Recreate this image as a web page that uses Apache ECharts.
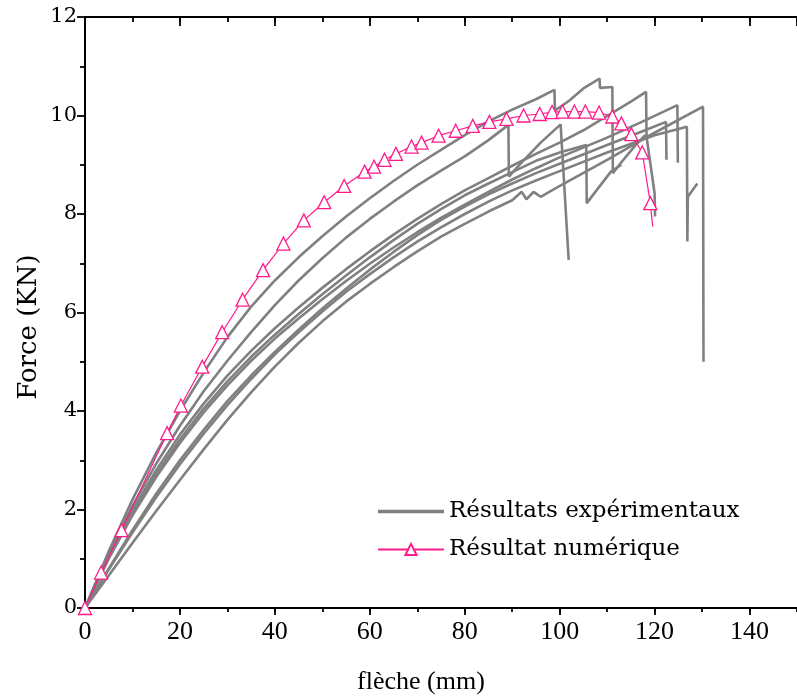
<!DOCTYPE html>
<html>
<head>
<meta charset="utf-8">
<script src="https://cdn.jsdelivr.net/npm/echarts@6/dist/echarts.min.js"></script>
<style>html,body{margin:0;padding:0;background:#fff}#c{width:797px;height:697px}</style>
</head>
<body>
<div id="c"></div>
<script>
// ---- tick labels ----
const xTicks = [0, 20, 40, 60, 80, 100, 120, 140];
const yTicks = [0, 2, 4, 6, 8, 10, 12];

// ---- experimental curves [flèche mm, force kN] ----
const essaiA = [[0,0],[5,1.1],[10,2.07],[15,2.93],[20,3.7],[25,4.4],[30,5.02],[35,5.6],[40,6.15],[45,6.65],[50,7.1],[55,7.52],[60,7.9],[65,8.25],[70,8.58],[75,8.88],[80,9.17],[85,9.5],[89.2,9.81],[89.3,8.76],[92,9.05],[96,9.45],[100.2,9.82],[101.9,7.07]];
const essaiB = [[0,0],[5,1.15],[10,2.2],[15,3.15],[20,4.0],[25,4.78],[30,5.5],[35,6.12],[40,6.65],[45,7.12],[50,7.55],[55,7.95],[60,8.32],[65,8.67],[70,9.0],[75,9.3],[80,9.6],[85,9.88],[90,10.12],[95,10.33],[98.9,10.52],[99,10.1],[102,10.3],[105,10.55],[108.4,10.75],[108.5,10.56],[111.1,10.58],[111.2,8.83],[113,9.05],[116,9.4],[118,9.6]];
const essaiC = [[0,0],[5,1.05],[10,1.98],[15,2.8],[20,3.52],[25,4.15],[30,4.72],[35,5.22],[40,5.68],[45,6.1],[50,6.5],[55,6.88],[60,7.24],[65,7.58],[70,7.9],[75,8.2],[80,8.48],[85,8.73],[90,8.98],[95,9.22],[100,9.45],[105,9.7],[111,10.05],[115,10.28],[118.2,10.48],[118.3,9.57],[120,8.42],[120.1,7.95]];
const essaiD = [[0,0],[5,1.02],[10,1.92],[15,2.72],[20,3.42],[25,4.05],[30,4.6],[35,5.1],[40,5.55],[45,5.97],[50,6.37],[55,6.75],[60,7.12],[65,7.47],[70,7.8],[75,8.1],[80,8.38],[85,8.62],[90,8.85],[95,9.08],[100,9.25],[105.6,9.4],[105.7,8.22],[110.8,8.86],[113,9.0]];
const essaiE = [[0,0],[5,1.0],[10,1.88],[15,2.66],[20,3.35],[25,3.97],[30,4.52],[35,5.02],[40,5.47],[45,5.88],[50,6.27],[55,6.64],[60,6.99],[65,7.32],[70,7.63],[75,7.92],[80,8.19],[85,8.45],[90,8.7],[95,8.93],[100,9.15],[110,9.55],[118,9.9],[124.8,10.21],[124.9,9.04]];
const essaiF = [[0,0],[5,0.8],[10,1.58],[15,2.32],[20,3.0],[25,3.62],[30,4.2],[35,4.72],[40,5.2],[45,5.65],[50,6.08],[55,6.48],[60,6.87],[65,7.23],[70,7.57],[75,7.88],[80,8.15],[85,8.4],[90,8.62],[95,8.83],[100,9.02],[110,9.4],[118,9.7],[122.4,9.87],[122.5,9.1]];
const essaiG = [[0,0],[5,0.78],[10,1.53],[15,2.25],[20,2.92],[25,3.54],[30,4.12],[35,4.65],[40,5.15],[45,5.6],[50,6.02],[55,6.42],[60,6.78],[65,7.12],[70,7.44],[75,7.73],[80,8.0],[85,8.25],[90,8.48],[95,8.68],[100,8.87],[110,9.25],[120,9.6],[126.8,9.77],[126.9,7.44],[127,8.35],[129,8.62]];
const essaiH = [[0,0],[5,0.66],[10,1.32],[15,1.97],[20,2.6],[25,3.22],[30,3.82],[35,4.38],[40,4.9],[45,5.38],[50,5.82],[55,6.22],[60,6.58],[65,6.92],[70,7.24],[75,7.54],[80,7.8],[85,8.05],[90,8.28],[92,8.45],[93,8.3],[94.5,8.45],[96,8.35],[99.1,8.52],[110,9.1],[120,9.65],[130.2,10.18],[130.3,5.0]];
const essais = [essaiA, essaiB, essaiC, essaiD, essaiE, essaiF, essaiG, essaiH];

// ---- numerical result ----
const numX = [0,3.4,7.7,17.3,20.2,24.7,28.9,33.2,37.5,41.8,46.1,50.4,54.6,58.9,60.9,63.1,65.5,68.8,70.9,74.5,78.1,81.7,85.2,88.8,92.4,95.8,98.4,100.6,103.1,105.4,108.3,111.1,113.0,115.1,117.4,119.1,119.6];
const numY = [0,0.72,1.58,3.55,4.11,4.90,5.60,6.26,6.86,7.40,7.87,8.24,8.57,8.86,8.96,9.10,9.22,9.37,9.45,9.59,9.69,9.79,9.87,9.93,10.0,10.03,10.07,10.08,10.08,10.08,10.06,9.98,9.84,9.62,9.25,8.22,7.74];

const expName = 'Résultats expérimentaux';
const numName = 'Résultat numérique';
const grey = '#808080';
const pink = '#ff1a8c';

const chart = echarts.init(document.getElementById('c'), null, {renderer: 'canvas'});

const series = essais.map(d => ({
  name: expName, type: 'line', xAxisIndex: 0, yAxisIndex: 0,
  data: d, showSymbol: false, symbol: 'none',
  lineStyle: {color: grey, width: 2.6}, itemStyle: {color: grey},
  z: 2, animation: false
}));
series.push({
  name: numName, type: 'line', xAxisIndex: 0, yAxisIndex: 0,
  data: numX.map((x, i) => i === numX.length - 1 ? {value: [x, numY[i]], symbol: 'none'} : [x, numY[i]]),
  symbol: 'triangle', symbolSize: 13, showAllSymbol: true,
  lineStyle: {color: pink, width: 1.2},
  itemStyle: {color: '#fff', borderColor: pink, borderWidth: 1.3},
  z: 5, animation: false
});

const xStep = xTicks[1] - xTicks[0];
const yStep = yTicks[1] - yTicks[0];
const axisLineStyle = {color: '#000', width: 2};

function xAx(pos, interval, len, inside, showLine, showLabel) {
  return {
    type: 'value', position: pos, min: xTicks[0], max: 150, interval: interval,
    axisLine: {show: showLine, onZero: false, lineStyle: axisLineStyle},
    axisTick: {show: true, inside: inside, length: len, lineStyle: {color: '#000', width: 1.8}},
    axisLabel: {show: showLabel, showMaxLabel: false, margin: 11, color: '#000',
      fontFamily: 'Liberation Serif', fontSize: 26},
    splitLine: {show: false}
  };
}

chart.setOption({
  animation: false,
  backgroundColor: '#fff',
  grid: {left: 85, top: 17, right: -6, bottom: 89, containLabel: false},
  xAxis: [
    xAx('bottom', xStep, 7, false, true, true),
    xAx('bottom', xStep / 2, 4, false, false, false),
    xAx('top', xStep, 9, true, true, false),
    xAx('top', xStep / 2, 5, true, false, false)
  ],
  yAxis: [{
    type: 'value', position: 'left', min: yTicks[0], max: yTicks[yTicks.length - 1], interval: yStep,
    axisLine: {show: true, onZero: false, lineStyle: axisLineStyle},
    axisTick: {show: true, inside: false, length: 8, lineStyle: {color: '#000', width: 1.8}},
    minorTick: {show: true, splitNumber: 2, length: 5, lineStyle: {color: '#000', width: 1.8}},
    axisLabel: {margin: 8, color: '#000', fontFamily: 'DejaVu Serif', fontSize: 21},
    splitLine: {show: false}
  }],
  legend: {
    orient: 'vertical', left: 372, top: 495, itemGap: 15,
    itemWidth: 66, itemHeight: 14,
    data: [
      {name: expName, icon: 'path://M0,0L66,0L66,3.5L0,3.5Z', itemStyle: {color: grey}},
      {name: numName}
    ],
    textStyle: {fontFamily: 'DejaVu Serif', fontSize: 23, color: '#000'}
  },
  graphic: [
    {type: 'text', x: 421, y: 682,
      style: {text: 'flèche (mm)', font: '26px "Liberation Serif"', fill: '#000',
        align: 'center', verticalAlign: 'middle'}},
    {type: 'text', x: 29, y: 327, rotation: Math.PI / 2,
      style: {text: 'Force (KN)', font: '26px "DejaVu Serif"', fill: '#000',
        align: 'center', verticalAlign: 'middle'}}
  ],
  series: series
});
</script>
</body>
</html>
